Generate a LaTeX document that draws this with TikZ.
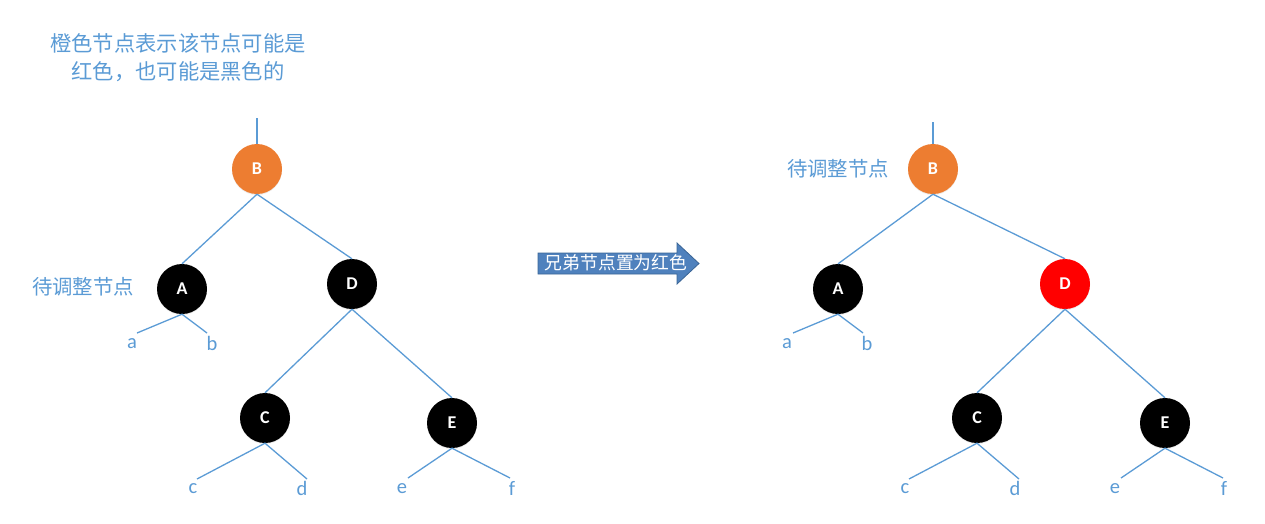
\documentclass[tikz,border=0pt]{standalone}
\usepackage{fontspec}
\setmainfont{Carlito}
\newfontfamily\cjk{Noto Sans CJK SC}
\usepackage{tikz}
\usetikzlibrary{positioning,shadows}
\definecolor{lineblue}{HTML}{5B9BD5}
\definecolor{textblue}{HTML}{5B9BD5}
\definecolor{nodeorange}{HTML}{ED7D31}
\definecolor{arrowblue}{HTML}{4F81BD}
\definecolor{arrowedge}{HTML}{3A6596}
\tikzset{
  rbnode/.style={
    shape = circle,
    minimum size = 50pt,
    inner sep = 0pt,
    text = white,
    font = \fontsize{18}{18}\selectfont\bfseries,
    drop shadow = {opacity=0.15, shadow xshift=0pt, shadow yshift=-1pt}
  },
  blk/.style={rbnode, fill = black},
  org/.style={rbnode, fill = nodeorange},
  rd/.style={rbnode, fill = red},
  edge/.style={
    draw = lineblue,
    line width = 1.3pt
  },
  leaf/.style={
    text = textblue,
    font = \fontsize{20.5}{20}\selectfont,
    inner sep = 0pt
  },
  note/.style={
    text = textblue,
    font = \cjk\fontsize{21.3}{28}\selectfont,
    align = center,
    inner sep = 0pt
  },
  opbox/.style={
    fill = arrowblue,
    draw = arrowedge,
    line width = 0.8pt
  },
}
\begin{document}
\begin{tikzpicture}[x=1pt,y=-1pt]
    \useasboundingbox (0,0) rectangle (1265,523);

    % left tree
    \node[note] (hint) at (178,58) {橙色节点表示该节点可能是\\红色，也可能是黑色的};
    \coordinate (Ltop) at (257,118);
    \node[org] (LB) at (257,169) {B};
    \node[blk] (LA) at (182,289) {A};
    \node[blk] (LD) at (352,284) {D};
    \node[blk] (LC) at (265,418) {C};
    \node[blk] (LE) at (452,423) {E};
    \node[note, font=\cjk\fontsize{20.4}{20}\selectfont] (Lcur) at (83,287) {待调整节点};

    \draw[edge] (Ltop) -- (LB.north);
    \draw[edge] (LB.south) -- (LA.north);
    \draw[edge] (LB.south) -- (LD.north);
    \draw[edge] (LD.south) -- (LC.north);
    \draw[edge] (LD.south) -- (LE.north);

    \coordinate (La) at (137,333);
    \coordinate (Lb) at (207,333);
    \coordinate (Lc) at (197,479);
    \coordinate (Ld) at (307,479);
    \coordinate (Le) at (408,478);
    \coordinate (Lf) at (510,478);
    \draw[edge] (La) -- (LA.south) -- (Lb);
    \draw[edge] (Lc) -- (LC.south) -- (Ld);
    \draw[edge] (Le) -- (LE.south) -- (Lf);
    \node[leaf] (la) at (132,344) {a};
    \node[leaf] (lb) at (212,343) {b};
    \node[leaf] (lc) at (193,489) {c};
    \node[leaf] (ld) at (302,488) {d};
    \node[leaf] (le) at (402,489) {e};
    \node[leaf] (lf) at (512,488) {f};

    % operation
    \draw[opbox] (538,253) -- (677,253) -- (677,243) -- (699,263.5) -- (677,284)
        -- (677,274) -- (538,274) -- cycle;
    \node[text=white, font=\cjk\fontsize{17.8}{17}\selectfont, inner sep=0pt] (op) at (616,263) {兄弟节点置为红色};

    % right tree
    \coordinate (Rtop) at (933,122);
    \node[org] (RB) at (933,169) {B};
    \node[blk] (RA) at (838,289) {A};
    \node[rd] (RD) at (1065,284) {D};
    \node[blk] (RC) at (977,418) {C};
    \node[blk] (RE) at (1165,423) {E};
    \node[note, font=\cjk\fontsize{20.4}{20}\selectfont] (Rcur) at (838,169) {待调整节点};

    \draw[edge] (Rtop) -- (RB.north);
    \draw[edge] (RB.south) -- (RA.north);
    \draw[edge] (RB.south) -- (RD.north);
    \draw[edge] (RD.south) -- (RC.north);
    \draw[edge] (RD.south) -- (RE.north);

    \coordinate (Ra) at (793,333);
    \coordinate (Rb) at (863,333);
    \coordinate (Rc) at (909,479);
    \coordinate (Rd) at (1019,479);
    \coordinate (Re) at (1121,478);
    \coordinate (Rf) at (1223,478);
    \draw[edge] (Ra) -- (RA.south) -- (Rb);
    \draw[edge] (Rc) -- (RC.south) -- (Rd);
    \draw[edge] (Re) -- (RE.south) -- (Rf);
    \node[leaf] (ra) at (787,344) {a};
    \node[leaf] (rb) at (867,343) {b};
    \node[leaf] (rc) at (905,489) {c};
    \node[leaf] (rd) at (1015,488) {d};
    \node[leaf] (re) at (1115,489) {e};
    \node[leaf] (rf) at (1224,488) {f};
\end{tikzpicture}
\end{document}
